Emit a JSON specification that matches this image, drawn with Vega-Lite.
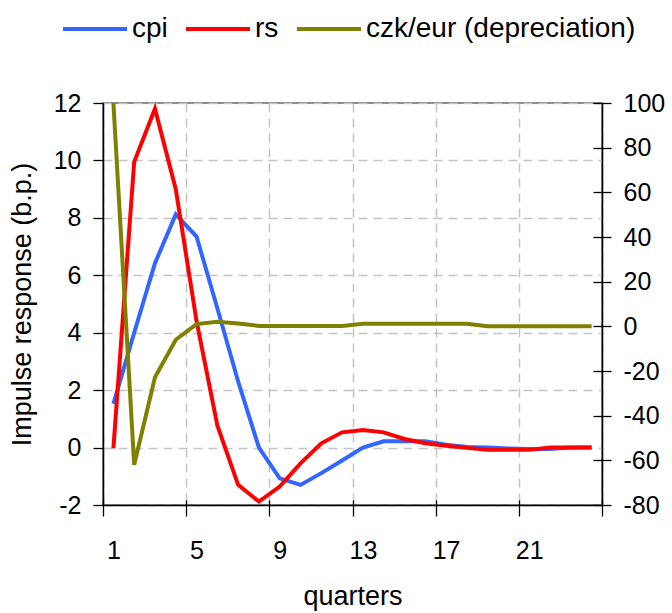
{
  "$schema": "https://vega.github.io/schema/vega-lite/v6.json",
  "width": 499,
  "height": 402,
  "autosize": {"type": "none"},
  "padding": {"left": 103, "top": 103, "right": 70, "bottom": 108},
  "background": "white",
  "config": {
    "font": "Liberation Sans",
    "view": {"stroke": "#8c8c8c", "strokeWidth": 2},
    "axis": {
      "labelFont": "Liberation Sans",
      "titleFont": "Liberation Sans",
      "labelColor": "black",
      "titleColor": "black",
      "titleFontWeight": "normal",
      "domainColor": "black",
      "domainWidth": 1.5,
      "tickColor": "black",
      "tickWidth": 1.3,
      "gridColor": "#c4c4c4",
      "gridDash": [9, 6],
      "gridWidth": 1.5,
      "labelFontSize": 25,
      "titleFontSize": 27
    },
    "legend": {
      "labelFont": "Liberation Sans",
      "labelFontSize": 28,
      "labelColor": "black",
      "labelLimit": 500
    }
  },
  "data": {
    "values": [
      {"quarter": 1, "series": "cpi", "value": 1.52},
      {"quarter": 2, "series": "cpi", "value": 4.0},
      {"quarter": 3, "series": "cpi", "value": 6.42},
      {"quarter": 4, "series": "cpi", "value": 8.12},
      {"quarter": 5, "series": "cpi", "value": 7.35},
      {"quarter": 6, "series": "cpi", "value": 4.85},
      {"quarter": 7, "series": "cpi", "value": 2.3},
      {"quarter": 8, "series": "cpi", "value": 0.0},
      {"quarter": 9, "series": "cpi", "value": -1.07},
      {"quarter": 10, "series": "cpi", "value": -1.3},
      {"quarter": 11, "series": "cpi", "value": -0.89},
      {"quarter": 12, "series": "cpi", "value": -0.45},
      {"quarter": 13, "series": "cpi", "value": 0.0},
      {"quarter": 14, "series": "cpi", "value": 0.22},
      {"quarter": 15, "series": "cpi", "value": 0.22},
      {"quarter": 16, "series": "cpi", "value": 0.22},
      {"quarter": 17, "series": "cpi", "value": 0.1},
      {"quarter": 18, "series": "cpi", "value": 0.02},
      {"quarter": 19, "series": "cpi", "value": 0.0},
      {"quarter": 20, "series": "cpi", "value": -0.03},
      {"quarter": 21, "series": "cpi", "value": -0.05},
      {"quarter": 22, "series": "cpi", "value": -0.05},
      {"quarter": 23, "series": "cpi", "value": 0.0},
      {"quarter": 24, "series": "cpi", "value": 0.0},
      {"quarter": 1, "series": "rs", "value": -0.03},
      {"quarter": 2, "series": "rs", "value": 9.95},
      {"quarter": 3, "series": "rs", "value": 11.8},
      {"quarter": 4, "series": "rs", "value": 9.0},
      {"quarter": 5, "series": "rs", "value": 4.4},
      {"quarter": 6, "series": "rs", "value": 0.77},
      {"quarter": 7, "series": "rs", "value": -1.3},
      {"quarter": 8, "series": "rs", "value": -1.88},
      {"quarter": 9, "series": "rs", "value": -1.36},
      {"quarter": 10, "series": "rs", "value": -0.55},
      {"quarter": 11, "series": "rs", "value": 0.15},
      {"quarter": 12, "series": "rs", "value": 0.53},
      {"quarter": 13, "series": "rs", "value": 0.61},
      {"quarter": 14, "series": "rs", "value": 0.53},
      {"quarter": 15, "series": "rs", "value": 0.3},
      {"quarter": 16, "series": "rs", "value": 0.15},
      {"quarter": 17, "series": "rs", "value": 0.06},
      {"quarter": 18, "series": "rs", "value": -0.01},
      {"quarter": 19, "series": "rs", "value": -0.08},
      {"quarter": 20, "series": "rs", "value": -0.08},
      {"quarter": 21, "series": "rs", "value": -0.08},
      {"quarter": 22, "series": "rs", "value": 0.0},
      {"quarter": 23, "series": "rs", "value": 0.0},
      {"quarter": 24, "series": "rs", "value": 0.0},
      {"quarter": 1, "series": "czk/eur (depreciation)", "value": 100},
      {"quarter": 2, "series": "czk/eur (depreciation)", "value": -62},
      {"quarter": 3, "series": "czk/eur (depreciation)", "value": -22.8},
      {"quarter": 4, "series": "czk/eur (depreciation)", "value": -6.0},
      {"quarter": 5, "series": "czk/eur (depreciation)", "value": 1.0},
      {"quarter": 6, "series": "czk/eur (depreciation)", "value": 2.1},
      {"quarter": 7, "series": "czk/eur (depreciation)", "value": 1.3},
      {"quarter": 8, "series": "czk/eur (depreciation)", "value": 0.2},
      {"quarter": 9, "series": "czk/eur (depreciation)", "value": 0.2},
      {"quarter": 10, "series": "czk/eur (depreciation)", "value": 0.2},
      {"quarter": 11, "series": "czk/eur (depreciation)", "value": 0.2},
      {"quarter": 12, "series": "czk/eur (depreciation)", "value": 0.2},
      {"quarter": 13, "series": "czk/eur (depreciation)", "value": 1.2},
      {"quarter": 14, "series": "czk/eur (depreciation)", "value": 1.2},
      {"quarter": 15, "series": "czk/eur (depreciation)", "value": 1.2},
      {"quarter": 16, "series": "czk/eur (depreciation)", "value": 1.2},
      {"quarter": 17, "series": "czk/eur (depreciation)", "value": 1.2},
      {"quarter": 18, "series": "czk/eur (depreciation)", "value": 1.2},
      {"quarter": 19, "series": "czk/eur (depreciation)", "value": 0.0},
      {"quarter": 20, "series": "czk/eur (depreciation)", "value": 0.0},
      {"quarter": 21, "series": "czk/eur (depreciation)", "value": 0.0},
      {"quarter": 22, "series": "czk/eur (depreciation)", "value": 0.0},
      {"quarter": 23, "series": "czk/eur (depreciation)", "value": 0.0},
      {"quarter": 24, "series": "czk/eur (depreciation)", "value": 0.0}
    ]
  },
  "layer": [
    {
      "transform": [{"filter": "datum.series === 'cpi'"}],
      "mark": {"type": "line", "strokeWidth": 4},
      "encoding": {
        "x": {
          "field": "quarter", "type": "quantitative",
          "scale": {"domain": [0.5, 24.5], "nice": false, "zero": false},
          "axis": {
            "orient": "bottom",
            "title": "quarters",
            "values": [0.5, 4.5, 8.5, 12.5, 16.5, 20.5, 24.5],
            "labelExpr": "datum.value < 24 ? format(datum.value + 0.5, 'd') : ''",
            "labelOffset": 10.4,
            "labelPadding": 22,
            "labelFlush": false,
            "labelOverlap": false,
            "tickSize": 11,
            "grid": true,
            "titlePadding": 20
          }
        },
        "y": {
          "field": "value", "type": "quantitative",
          "scale": {"domain": [-2, 12], "nice": false, "zero": false},
          "axis": {
            "orient": "left",
            "title": "Impulse response (b.p.)",
            "values": [-2, 0, 2, 4, 6, 8, 10, 12],
            "labelExpr": "datum.value < 0 ? '-' + abs(datum.value) : '' + datum.value",
            "tickSize": 10,
            "labelPadding": 12,
            "titlePadding": 17,
            "grid": true
          }
        },
        "color": {
          "field": "series", "type": "nominal",
          "scale": {"domain": ["cpi", "rs", "czk/eur (depreciation)"], "range": ["#3366ff", "#ff0000", "#808000"]},
          "legend": {
            "title": null,
            "orient": "none",
            "direction": "horizontal",
            "legendX": -42,
            "legendY": -108,
            "symbolType": "stroke",
            "symbolSize": 4096,
            "symbolStrokeWidth": 4,
            "labelOffset": 3,
            "columnPadding": 10,
            "padding": 0
          }
        }
      }
    },
    {
      "transform": [{"filter": "datum.series === 'rs'"}],
      "mark": {"type": "line", "strokeWidth": 4},
      "encoding": {
        "x": {
          "field": "quarter", "type": "quantitative",
          "scale": {"domain": [0.5, 24.5], "nice": false, "zero": false},
          "axis": {
            "orient": "bottom",
            "title": null,
            "values": [0.5, 4.5, 8.5, 12.5, 16.5, 20.5, 24.5],
            "labels": false,
            "domain": false,
            "grid": false,
            "tickSize": -5
          }
        },
        "y": {
          "field": "value", "type": "quantitative",
          "scale": {"domain": [-2, 12], "nice": false, "zero": false},
          "axis": null
        },
        "color": {"field": "series", "type": "nominal"}
      }
    },
    {
      "transform": [{"filter": "datum.series === 'czk/eur (depreciation)'"}],
      "mark": {"type": "line", "strokeWidth": 4},
      "encoding": {
        "x": {
          "field": "quarter", "type": "quantitative",
          "scale": {"domain": [0.5, 24.5], "nice": false, "zero": false},
          "axis": null
        },
        "y": {
          "field": "value", "type": "quantitative",
          "scale": {"domain": [-80, 100], "nice": false, "zero": false},
          "axis": {
            "orient": "right",
            "title": null,
            "values": [-80, -60, -40, -20, 0, 20, 40, 60, 80, 100],
            "labelExpr": "datum.value < 0 ? '-' + abs(datum.value) : '' + datum.value",
            "tickSize": 9,
            "labelPadding": 12,
            "grid": false
          }
        },
        "color": {"field": "series", "type": "nominal"}
      }
    },
    {
      "transform": [{"filter": "datum.series === 'czk/eur (depreciation)'"}],
      "mark": {"type": "line", "strokeWidth": 4, "opacity": 0},
      "encoding": {
        "x": {
          "field": "quarter", "type": "quantitative",
          "scale": {"domain": [0.5, 24.5], "nice": false, "zero": false},
          "axis": null
        },
        "y": {
          "field": "value", "type": "quantitative",
          "scale": {"domain": [-80, 100], "nice": false, "zero": false},
          "axis": {
            "orient": "right",
            "title": null,
            "values": [-80, -60, -40, -20, 0, 20, 40, 60, 80, 100],
            "labels": false,
            "domain": false,
            "grid": false,
            "tickSize": -9
          }
        }
      }
    }
  ],
  "resolve": {
    "scale": {"y": "independent"},
    "axis": {"x": "independent", "y": "independent"}
  }
}
